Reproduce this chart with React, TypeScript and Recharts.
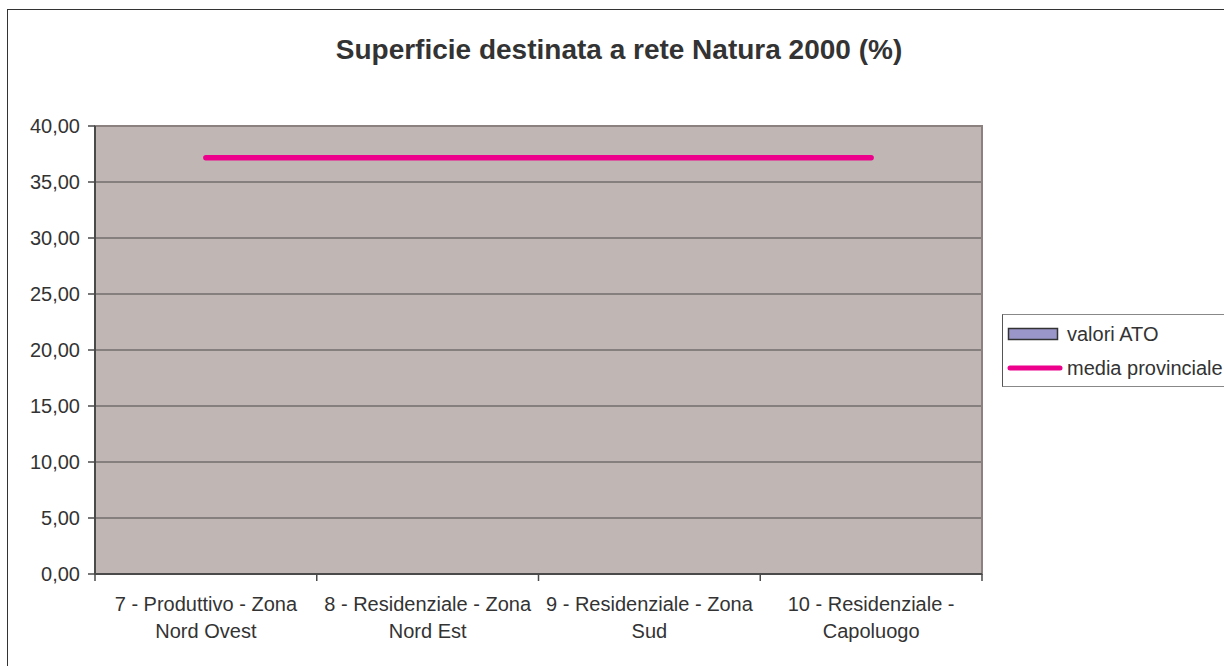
import React from 'react';
import {
  ComposedChart,
  Bar,
  Line,
  XAxis,
  YAxis,
  CartesianGrid,
  Legend,
  ReferenceArea,
} from 'recharts';

const CATEGORIES = [
  '7 - Produttivo - Zona Nord Ovest',
  '8 - Residenziale - Zona Nord Est',
  '9 - Residenziale - Zona Sud',
  '10 - Residenziale - Capoluogo',
];
const CATEGORY_LINES = [
  ['7 - Produttivo - Zona', 'Nord Ovest'],
  ['8 - Residenziale - Zona', 'Nord Est'],
  ['9 - Residenziale - Zona', 'Sud'],
  ['10 - Residenziale -', 'Capoluogo'],
];
const VALORI_ATO: (number | null)[] = [null, null, null, null];
const MEDIA_PROVINCIALE = [37.16, 37.16, 37.16, 37.16];
const Y_TICKS = [0, 5, 10, 15, 20, 25, 30, 35, 40];
const LEGEND_ORDER = ['valori ATO', 'media provinciale'];

const data = CATEGORIES.map((name, i) => ({
  name,
  ato: VALORI_ATO[i],
  media: MEDIA_PROVINCIALE[i],
}));

const FONT = "'Liberation Sans', Arial, Helvetica, sans-serif";
const TEXT = '#333333';
const AXIS = '#4a4a4a';
const PLOT_BG = '#C0B6B3';
const FRAME = '#8B8280';
const MAGENTA = '#EC008C';
const PURPLE = '#9B96CA';

const W = 1224;
const H = 666;
const MARGIN = { top: 126, right: 242, bottom: 22, left: 0 };
const Y_WIDTH = 95;
const HALF_BAND = (W - MARGIN.right - Y_WIDTH) / CATEGORIES.length / 2;

const fmt = (v: number) => v.toFixed(2).replace('.', ',');

const CategoryTick = (props: any) => {
  const { x, y, payload, index } = props;
  const lines = CATEGORY_LINES[CATEGORIES.indexOf(payload.value)] || [payload.value];
  const last = index === CATEGORIES.length - 1;
  return (
    <g>
      <line x1={x - HALF_BAND} x2={x - HALF_BAND} y1={y - 7} y2={y} stroke={AXIS} strokeWidth={1.5} />
      {last && (
        <line x1={x + HALF_BAND} x2={x + HALF_BAND} y1={y - 7} y2={y} stroke={AXIS} strokeWidth={1.5} />
      )}
      {lines.map((t: string, i: number) => (
        <text
          key={t}
          x={x}
          y={y + 30 + i * 27}
          textAnchor="middle"
          fill={TEXT}
          fontSize={20}
          fontFamily={FONT}
        >
          {t}
        </text>
      ))}
    </g>
  );
};

const LegendBox = (props: any) => {
  const items = [...(props.payload || [])].sort(
    (a: any, b: any) => LEGEND_ORDER.indexOf(a.value) - LEGEND_ORDER.indexOf(b.value)
  );
  return (
    <div
      style={{
        border: '1.5px solid #555',
        borderTopColor: '#888',
        borderBottomColor: '#888',
        height: 69,
        boxSizing: 'content-box',
        paddingTop: 2,
        background: '#fff',
        fontFamily: FONT,
        fontSize: 20,
        color: TEXT,
      }}
    >
      {items.map((it: any) => (
        <div key={it.value} style={{ display: 'flex', alignItems: 'center', height: 34 }}>
          <svg width={58} height={14} style={{ marginLeft: 4, marginRight: 2 }}>
            {it.type === 'rect' ? (
              <rect x={1.5} y={1.5} width={49} height={11} fill={PURPLE} stroke="#333" strokeWidth={1.5} />
            ) : (
              <line x1={3} x2={53} y1={7} y2={7} stroke={MAGENTA} strokeWidth={5} strokeLinecap="round" />
            )}
          </svg>
          <span style={{ whiteSpace: 'nowrap' }}>{it.value}</span>
        </div>
      ))}
    </div>
  );
};

export default function App() {
  return (
    <div
      style={{
        position: 'absolute',
        left: 0,
        top: 0,
        width: W,
        height: H,
        overflow: 'hidden',
        background: '#fff',
      }}
    >
      <div
        style={{
          position: 'absolute',
          left: 7,
          top: 9,
          width: W + 50,
          height: H + 50,
          borderLeft: '1.5px solid #333',
          borderTop: '1.5px solid #333',
        }}
      />
      <div
        style={{
          position: 'absolute',
          left: 0,
          top: 36,
          width: 1238,
          textAlign: 'center',
          fontFamily: FONT,
          fontWeight: 'bold',
          fontSize: 28,
          lineHeight: '28px',
          color: TEXT,
        }}
      >
        Superficie destinata a rete Natura 2000 (%)
      </div>
      <div style={{ position: 'absolute', left: 0, top: 0 }}>
        <ComposedChart width={W} height={H} data={data} margin={MARGIN}>
          <CartesianGrid
            vertical={false}
            stroke={AXIS}
            strokeWidth={1}
            fill={PLOT_BG}
            fillOpacity={1}
          />
          <ReferenceArea y1={0} y2={40} fill="none" stroke={FRAME} strokeWidth={2} />
          <XAxis
            dataKey="name"
            height={70}
            tickSize={7}
            tickMargin={0}
            tickLine={false}
            axisLine={{ stroke: AXIS, strokeWidth: 2 }}
            tick={<CategoryTick />}
            interval={0}
          />
          <YAxis
            width={Y_WIDTH}
            domain={[0, 40]}
            ticks={Y_TICKS}
            tickFormatter={fmt}
            tickSize={7}
            tickMargin={8}
            tickLine={{ stroke: AXIS, strokeWidth: 1.5 }}
            axisLine={{ stroke: AXIS, strokeWidth: 2 }}
            tick={{ fill: TEXT, fontSize: 20, fontFamily: FONT }}
            interval={0}
          />
          <Legend
            layout="horizontal"
            align="center"
            verticalAlign="middle"
            width={240}
            wrapperStyle={{ left: 1002, top: 314, width: 240 }}
            content={<LegendBox />}
          />
          <Bar
            dataKey="ato"
            name="valori ATO"
            fill={PURPLE}
            stroke="#333"
            legendType="rect"
            isAnimationActive={false}
          />
          <Line
            dataKey="media"
            name="media provinciale"
            stroke={MAGENTA}
            strokeWidth={5.5}
            strokeLinecap="round"
            dot={false}
            activeDot={false}
            legendType="line"
            isAnimationActive={false}
          />
        </ComposedChart>
      </div>
    </div>
  );
}
